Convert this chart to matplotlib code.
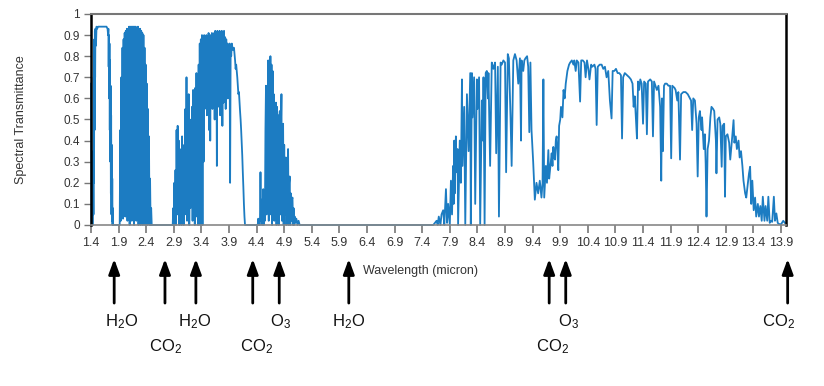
import matplotlib
matplotlib.use('Agg')
import matplotlib.pyplot as plt

plt.rcParams['font.family'] = ['Liberation Sans', 'DejaVu Sans']
plt.rcParams['mathtext.default'] = 'regular'
plt.rcParams['path.simplify'] = False

# ---- data (wavelength micron, transmittance) ----
band_h2o_1 = [(1.400, 0.67), (1.405, 0.40), (1.410, 0.00), (1.420, 0.00), (1.435, 0.00),
              (1.440, 0.35), (1.445, 0.05), (1.450, 0.70), (1.455, 0.20), (1.460, 0.88),
              (1.465, 0.45), (1.470, 0.92), (1.475, 0.70), (1.480, 0.93), (1.490, 0.85),
              (1.500, 0.94), (1.510, 0.93), (1.530, 0.94), (1.580, 0.94), (1.630, 0.94),
              (1.680, 0.94), (1.700, 0.93), (1.710, 0.90), (1.715, 0.93), (1.720, 0.75),
              (1.725, 0.90), (1.730, 0.60), (1.735, 0.86), (1.740, 0.45), (1.745, 0.78),
              (1.750, 0.30), (1.755, 0.66), (1.760, 0.15), (1.765, 0.52), (1.770, 0.05),
              (1.775, 0.38), (1.780, 0.02), (1.785, 0.22), (1.790, 0.00), (1.795, 0.08),
              (1.800, 0.00)]

band_h2o_2 = [(1.92, 0.00), (1.93, 0.45), (1.94, 0.02), (1.95, 0.70), (1.96, 0.05),
              (1.97, 0.84), (1.98, 0.03), (1.99, 0.88), (2.00, 0.05), (2.01, 0.91),
              (2.02, 0.04), (2.03, 0.92), (2.04, 0.10), (2.05, 0.93), (2.06, 0.02),
              (2.07, 0.93), (2.08, 0.12), (2.09, 0.94), (2.10, 0.00), (2.11, 0.94),
              (2.12, 0.06), (2.13, 0.94), (2.14, 0.02), (2.15, 0.94), (2.16, 0.47),
              (2.17, 0.94), (2.18, 0.00), (2.19, 0.94), (2.20, 0.05), (2.21, 0.94),
              (2.22, 0.02), (2.23, 0.93), (2.24, 0.10), (2.25, 0.94), (2.26, 0.00),
              (2.27, 0.93), (2.28, 0.05), (2.29, 0.93), (2.30, 0.00), (2.31, 0.92),
              (2.32, 0.03), (2.33, 0.91), (2.34, 0.00), (2.35, 0.90), (2.36, 0.02),
              (2.37, 0.84), (2.38, 0.00), (2.39, 0.76), (2.40, 0.05), (2.41, 0.67),
              (2.42, 0.00), (2.43, 0.55), (2.44, 0.02), (2.45, 0.42), (2.46, 0.00),
              (2.47, 0.22), (2.48, 0.00), (2.49, 0.08), (2.50, 0.00)]

band_3to4 = [(2.88, 0.00), (2.89, 0.08), (2.90, 0.00), (2.91, 0.20), (2.92, 0.02),
             (2.93, 0.26), (2.94, 0.00), (2.95, 0.45), (2.96, 0.05), (2.97, 0.47),
             (2.98, 0.10), (2.99, 0.40), (3.00, 0.00), (3.01, 0.36), (3.02, 0.08),
             (3.03, 0.30), (3.04, 0.00), (3.05, 0.42), (3.06, 0.12), (3.07, 0.25),
             (3.08, 0.00), (3.09, 0.38), (3.10, 0.05), (3.11, 0.55), (3.12, 0.10),
             (3.13, 0.70), (3.14, 0.02), (3.15, 0.55), (3.16, 0.15), (3.17, 0.62),
             (3.18, 0.00), (3.19, 0.50), (3.20, 0.08), (3.21, 0.45), (3.22, 0.20),
             (3.23, 0.56), (3.24, 0.02), (3.25, 0.64), (3.26, 0.12), (3.27, 0.50),
             (3.28, 0.00), (3.29, 0.65), (3.30, 0.10), (3.31, 0.72), (3.32, 0.04),
             (3.33, 0.60), (3.34, 0.00), (3.35, 0.76), (3.36, 0.05), (3.37, 0.86),
             (3.38, 0.00), (3.39, 0.88), (3.40, 0.10), (3.41, 0.90), (3.42, 0.00),
             (3.43, 0.89), (3.44, 0.30), (3.45, 0.90), (3.46, 0.55), (3.47, 0.88),
             (3.48, 0.60), (3.49, 0.90), (3.50, 0.52), (3.51, 0.89), (3.52, 0.58),
             (3.53, 0.91), (3.54, 0.45), (3.55, 0.88), (3.56, 0.40), (3.57, 0.90),
             (3.58, 0.62), (3.59, 0.91), (3.60, 0.55), (3.61, 0.89), (3.62, 0.60),
             (3.63, 0.91), (3.64, 0.50), (3.65, 0.92), (3.66, 0.58), (3.67, 0.90),
             (3.68, 0.28), (3.69, 0.92), (3.70, 0.56), (3.71, 0.90), (3.72, 0.62),
             (3.73, 0.92), (3.74, 0.52), (3.75, 0.91), (3.76, 0.60), (3.77, 0.92),
             (3.78, 0.47), (3.79, 0.90), (3.80, 0.58), (3.81, 0.92), (3.82, 0.63),
             (3.83, 0.89), (3.84, 0.55), (3.85, 0.88), (3.86, 0.65), (3.87, 0.86),
             (3.88, 0.60), (3.89, 0.85), (3.90, 0.70), (3.91, 0.86), (3.92, 0.20),
             (3.93, 0.85), (3.94, 0.80), (3.95, 0.86), (3.97, 0.83), (3.99, 0.84),
             (4.01, 0.78), (4.02, 0.74), (4.03, 0.76), (4.05, 0.70), (4.07, 0.62),
             (4.08, 0.63), (4.10, 0.54), (4.11, 0.50), (4.12, 0.45), (4.13, 0.39),
             (4.14, 0.33), (4.15, 0.25), (4.16, 0.18), (4.17, 0.10), (4.18, 0.04),
             (4.19, 0.00)]

band_4to5 = [(4.40, 0.00), (4.42, 0.00), (4.43, 0.03), (4.44, 0.00), (4.46, 0.00),
             (4.47, 0.25), (4.48, 0.02), (4.49, 0.12), (4.50, 0.00), (4.51, 0.08),
             (4.52, 0.17), (4.53, 0.00), (4.54, 0.10), (4.55, 0.02), (4.56, 0.45),
             (4.57, 0.66), (4.58, 0.05), (4.59, 0.55), (4.60, 0.10), (4.61, 0.78),
             (4.62, 0.02), (4.63, 0.72), (4.64, 0.15), (4.65, 0.80), (4.66, 0.05),
             (4.67, 0.76), (4.68, 0.00), (4.69, 0.73), (4.70, 0.10), (4.71, 0.62),
             (4.72, 0.02), (4.73, 0.56), (4.74, 0.12), (4.75, 0.58), (4.76, 0.00),
             (4.77, 0.56), (4.78, 0.08), (4.79, 0.52), (4.80, 0.00), (4.81, 0.50),
             (4.82, 0.54), (4.83, 0.05), (4.84, 0.45), (4.85, 0.62), (4.86, 0.02),
             (4.87, 0.40), (4.88, 0.48), (4.89, 0.00), (4.90, 0.38), (4.91, 0.05),
             (4.92, 0.30), (4.93, 0.32), (4.94, 0.00), (4.95, 0.28), (4.96, 0.05),
             (4.97, 0.36), (4.98, 0.00), (4.99, 0.20), (5.00, 0.23), (5.01, 0.00),
             (5.02, 0.15), (5.03, 0.02), (5.04, 0.12), (5.05, 0.13), (5.06, 0.00),
             (5.07, 0.08), (5.08, 0.00), (5.09, 0.04), (5.10, 0.01), (5.12, 0.03),
             (5.14, 0.00), (5.16, 0.02), (5.18, 0.00), (5.22, 0.00)]

band_8to9 = [(7.60, 0.00), (7.66, 0.02), (7.68, 0.00), (7.70, 0.04), (7.73, 0.00),
             (7.75, 0.05), (7.78, 0.07), (7.80, 0.00), (7.83, 0.17), (7.85, 0.01),
             (7.87, 0.10), (7.90, 0.00), (7.92, 0.21), (7.94, 0.05), (7.96, 0.28),
             (7.97, 0.10), (7.98, 0.40), (7.99, 0.15), (8.01, 0.42), (8.02, 0.25),
             (8.04, 0.36), (8.05, 0.00), (8.08, 0.40), (8.10, 0.20), (8.12, 0.69),
             (8.13, 0.28), (8.16, 0.56), (8.18, 0.00), (8.21, 0.62), (8.24, 0.35),
             (8.27, 0.72), (8.28, 0.00), (8.30, 0.72), (8.31, 0.51), (8.34, 0.70),
             (8.36, 0.10), (8.39, 0.69), (8.40, 0.55), (8.43, 0.70), (8.45, 0.00),
             (8.48, 0.59), (8.50, 0.40), (8.51, 0.70), (8.53, 0.00), (8.55, 0.72),
             (8.57, 0.73), (8.59, 0.60), (8.60, 0.72), (8.63, 0.28), (8.66, 0.77),
             (8.69, 0.74), (8.72, 0.77), (8.74, 0.34), (8.77, 0.75), (8.79, 0.04),
             (8.82, 0.77), (8.84, 0.76), (8.87, 0.78), (8.90, 0.77), (8.92, 0.25),
             (8.95, 0.81), (8.97, 0.79), (9.00, 0.51), (9.02, 0.28), (9.05, 0.78),
             (9.08, 0.81), (9.11, 0.78), (9.14, 0.67), (9.17, 0.79), (9.19, 0.40),
             (9.20, 0.78), (9.23, 0.73), (9.25, 0.78), (9.27, 0.79), (9.30, 0.80),
             (9.32, 0.75), (9.34, 0.44), (9.36, 0.77), (9.38, 0.45), (9.41, 0.30)]

band_10to11 = [(9.44, 0.12), (9.47, 0.20), (9.50, 0.15), (9.53, 0.21), (9.56, 0.13),
               (9.58, 0.20), (9.595, 0.69), (9.61, 0.13), (9.64, 0.28), (9.66, 0.20),
               (9.685, 0.355), (9.70, 0.22), (9.715, 0.26), (9.73, 0.30), (9.745, 0.34),
               (9.76, 0.28), (9.775, 0.37), (9.79, 0.32), (9.805, 0.31), (9.82, 0.40),
               (9.835, 0.42), (9.85, 0.35), (9.865, 0.26), (9.88, 0.47), (9.90, 0.50),
               (9.914, 0.56), (9.94, 0.51), (9.96, 0.64), (9.98, 0.60), (10.00, 0.67),
               (10.03, 0.73), (10.06, 0.76), (10.08, 0.77), (10.11, 0.78), (10.14, 0.76),
               (10.155, 0.78), (10.18, 0.73), (10.20, 0.78), (10.23, 0.77), (10.26, 0.585),
               (10.28, 0.78), (10.31, 0.78), (10.34, 0.77), (10.36, 0.70), (10.385, 0.78),
               (10.41, 0.74), (10.43, 0.69), (10.46, 0.76), (10.48, 0.75), (10.52, 0.76),
               (10.54, 0.74), (10.56, 0.474), (10.58, 0.75), (10.615, 0.76), (10.65, 0.76),
               (10.68, 0.74), (10.71, 0.75), (10.74, 0.70), (10.77, 0.73), (10.80, 0.59),
               (10.83, 0.505), (10.85, 0.73), (10.88, 0.73), (10.91, 0.74), (10.94, 0.72),
               (10.97, 0.72), (11.00, 0.71), (11.02, 0.41), (11.04, 0.70), (11.07, 0.72),
               (11.11, 0.71), (11.15, 0.70), (11.18, 0.69), (11.21, 0.67), (11.23, 0.56),
               (11.25, 0.61), (11.27, 0.51), (11.29, 0.41), (11.31, 0.68), (11.33, 0.64),
               (11.35, 0.69), (11.375, 0.67), (11.40, 0.48), (11.42, 0.68), (11.45, 0.67),
               (11.47, 0.43), (11.49, 0.68), (11.53, 0.69), (11.56, 0.68), (11.58, 0.42),
               (11.60, 0.68)]

band_12to14 = [(11.65, 0.64), (11.68, 0.66), (11.71, 0.56), (11.73, 0.21), (11.744, 0.60),
               (11.76, 0.35), (11.78, 0.66), (11.80, 0.67), (11.83, 0.67), (11.86, 0.66),
               (11.89, 0.66), (11.91, 0.316), (11.93, 0.66), (11.97, 0.65), (11.99, 0.64),
               (12.02, 0.59), (12.04, 0.63), (12.07, 0.31), (12.09, 0.62), (12.13, 0.63),
               (12.17, 0.63), (12.21, 0.62), (12.25, 0.60), (12.27, 0.59), (12.29, 0.45),
               (12.31, 0.60), (12.34, 0.59), (12.37, 0.48), (12.39, 0.23), (12.41, 0.51),
               (12.43, 0.54), (12.46, 0.45), (12.47, 0.51), (12.50, 0.36), (12.52, 0.43),
               (12.535, 0.29), (12.55, 0.04), (12.57, 0.36), (12.595, 0.40), (12.62, 0.51),
               (12.64, 0.56), (12.67, 0.55), (12.69, 0.54), (12.72, 0.40), (12.73, 0.245),
               (12.75, 0.50), (12.78, 0.51), (12.80, 0.48), (12.825, 0.276), (12.84, 0.47),
               (12.87, 0.48), (12.885, 0.134), (12.90, 0.42), (12.93, 0.43), (12.96, 0.39),
               (12.98, 0.31), (13.01, 0.40), (13.04, 0.497), (13.055, 0.39), (13.08, 0.42),
               (13.10, 0.36), (13.13, 0.40), (13.15, 0.32), (13.175, 0.35), (13.20, 0.28),
               (13.22, 0.21), (13.25, 0.15), (13.27, 0.13), (13.30, 0.20), (13.32, 0.245),
               (13.34, 0.276), (13.36, 0.10), (13.38, 0.21), (13.405, 0.07), (13.43, 0.13),
               (13.45, 0.04), (13.48, 0.10), (13.50, 0.04), (13.525, 0.09), (13.55, 0.02),
               (13.57, 0.134), (13.60, 0.02), (13.62, 0.09), (13.65, 0.02), (13.67, 0.134),
               (13.695, 0.01), (13.72, 0.02), (13.74, 0.015), (13.77, 0.134), (13.79, 0.02),
               (13.815, 0.055), (13.84, 0.01), (13.86, 0.005), (13.90, 0.003), (13.94, 0.02),
               (13.97, 0.01)]

x_ticks = [1.4, 1.9, 2.4, 2.9, 3.4, 3.9, 4.4, 4.9, 5.4, 5.9, 6.4, 6.9, 7.4, 7.9, 8.4,
           8.9, 9.4, 9.9, 10.4, 10.9, 11.4, 11.9, 12.4, 12.9, 13.4, 13.9]
x_tick_labels = ['1.4', '1.9', '2.4', '2.9', '3.4', '3.9', '4.4', '4.9', '5.4', '5.9',
                 '6.4', '6.9', '7.4', '7.9', '8.4', '8.9', '9.4', '9.9', '10.4', '10.9',
                 '11.4', '11.9', '12.4', '12.9', '13.4', '13.9']
y_ticks = [0, 0.1, 0.2, 0.3, 0.4, 0.5, 0.6, 0.7, 0.8, 0.9, 1]
y_tick_labels = ['0', '0.1', '0.2', '0.3', '0.4', '0.5', '0.6', '0.7', '0.8', '0.9', '1']

# absorber arrows: wavelength of arrow, label, label wavelength, label row
arrow_wl = [1.82, 2.74, 3.30, 4.33, 4.81, 6.07, 9.70, 10.00, 14.02]
arrow_labels = ['H$_2$O', 'CO$_2$', 'H$_2$O', 'CO$_2$', 'O$_3$', 'H$_2$O', 'CO$_2$', 'O$_3$', 'CO$_2$']
label_wl = [1.96, 2.75, 3.28, 4.39, 4.83, 6.06, 9.76, 10.05, 13.85]
label_row = [0, 1, 0, 1, 0, 0, 1, 0, 0]

bands = [band_h2o_1, band_h2o_2, band_3to4, band_4to5, band_8to9, band_10to11, band_12to14]
wl = [p[0] for b in bands for p in b]
tr = [p[1] for b in bands for p in b]

# ---- figure ----
fig = plt.figure(figsize=(8.24, 3.86), dpi=100)
ax = fig.add_axes([91 / 824, 1 - 225 / 386, 695 / 824, 211 / 386])
ax.plot(wl, tr, color='#1c7cc2', lw=1.3, clip_on=False)

ax.set_xlim(1.4, 13.99)
ax.set_ylim(0, 1)
ax.set_xticks(x_ticks)
ax.set_xticklabels(x_tick_labels)
ax.set_yticks(y_ticks)
ax.set_yticklabels(y_tick_labels)
ax.tick_params(axis='x', direction='out', length=6, width=1.2, color='#777777',
               pad=3, labelsize=9, labelcolor='#333333')
ax.tick_params(axis='y', direction='out', length=5, width=1.0, color='#777777',
               pad=3, labelsize=8.5, labelcolor='#333333')

for side in ['left', 'right']:
    ax.spines[side].set_color('black')
    ax.spines[side].set_linewidth(1.8)
ax.spines['top'].set_color('#777777')
ax.spines['top'].set_linewidth(1.5)
ax.spines['bottom'].set_color('#888888')
ax.spines['bottom'].set_linewidth(1.2)

ax.set_ylabel('Spectral Transmittance', fontsize=9, color='#333333')
ax.yaxis.set_label_coords(-0.092, 0.5)

xtr = ax.get_xaxis_transform()
ax.text(6.33, -0.218, 'Wavelength (micron)', transform=xtr, ha='left', va='center',
        fontsize=9, color='#333333')

row_y = [-0.46, -0.578]
for xa, lab, xl, r in zip(arrow_wl, arrow_labels, label_wl, label_row):
    ax.annotate('', xy=(xa, -0.161), xytext=(xa, -0.370), xycoords=xtr, textcoords=xtr,
                arrowprops=dict(arrowstyle='-|>,head_length=0.6,head_width=0.22',
                                color='black', lw=2, mutation_scale=15,
                                shrinkA=0, shrinkB=0),
                annotation_clip=False)
    ax.text(xl, row_y[r], lab, transform=xtr, ha='center', va='center',
            fontsize=12, color='#111111')

fig.savefig('out.png', dpi=100)
